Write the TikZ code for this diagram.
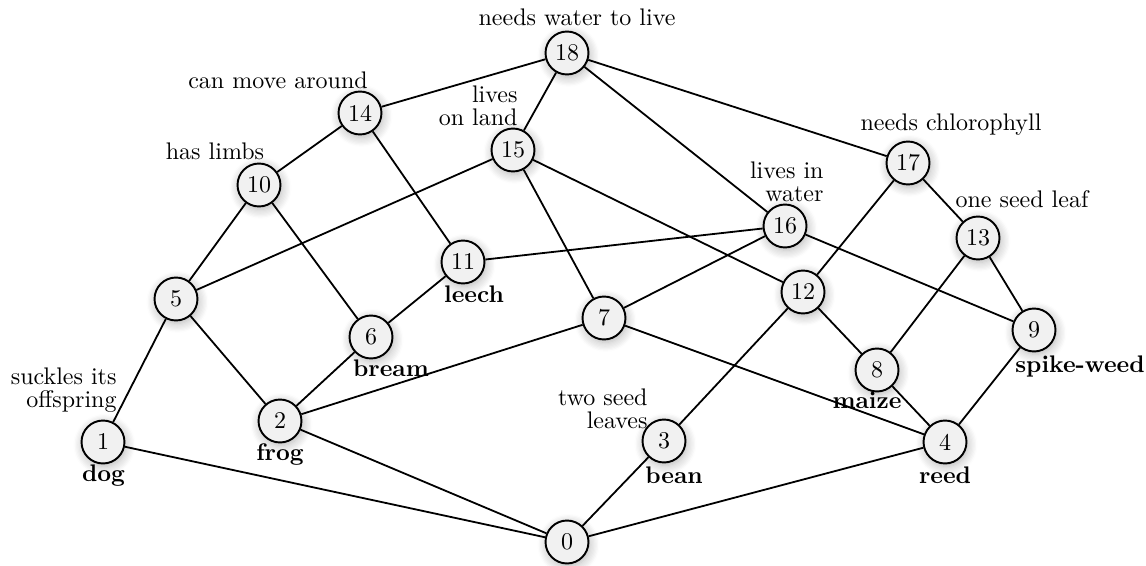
\documentclass[tikz,border=0pt]{standalone}
\usetikzlibrary{shadows.blur}
\begin{document}
\begin{tikzpicture}[x=0.41667pt,y=-0.41667pt,
  vert/.style={circle,draw,line width=0.8pt,fill=gray!11,minimum size=17.9pt,inner sep=0pt,
    blur shadow={shadow blur steps=8,shadow xshift=0.6pt,shadow yshift=-1.2pt,shadow blur radius=4pt,shadow opacity=30}},
  lbl/.style={inner sep=0pt,align=right,anchor=east,font=\fontsize{10}{9.5}\selectfont},
  clbl/.style={inner sep=0pt,align=center,font=\fontsize{10}{10.5}\selectfont},
  nm/.style={inner sep=0pt,font=\bfseries},
  edge/.style={line width=0.75pt}]
\useasboundingbox (0,0) rectangle (1146,565);
% vertices
\node[vert] (n18) at (567,53) {18};
\node[vert] (n14) at (360,113) {14};
\node[vert] (n15) at (513,150) {15};
\node[vert] (n10) at (259,185) {10};
\node[vert] (n17) at (908,163) {17};
\node[vert] (n16) at (785,226) {16};
\node[vert] (n13) at (978,238) {13};
\node[vert] (n11) at (463,262) {11};
\node[vert] (n5) at (176,299) {5};
\node[vert] (n12) at (803,292) {12};
\node[vert] (n7) at (604,318) {7};
\node[vert] (n6) at (371,337) {6};
\node[vert] (n9) at (1034,330) {9};
\node[vert] (n8) at (877,370) {8};
\node[vert] (n2) at (280,421) {2};
\node[vert] (n1) at (103,442) {1};
\node[vert] (n3) at (664,441) {3};
\node[vert] (n4) at (945,442) {4};
\node[vert] (n0) at (567,542) {0};
% edges
\foreach \a/\b in {18/14,18/15,18/16,18/17,14/10,14/11,15/5,15/7,15/12,10/5,10/6,
  17/12,17/13,16/11,16/7,16/9,13/8,13/9,11/6,5/1,5/2,12/3,12/8,7/2,7/4,6/2,9/4,8/4,
  1/0,2/0,3/0,4/0}
  \draw[edge] (n\a) -- (n\b);
% attribute labels
\node[clbl] (t18) at (577,17) {needs water to live};
\node[clbl] (t14) at (278,80) {can move around};
\node[lbl] (t15) at (518,106) {lives\\on land};
\node[clbl] (t10) at (215,151) {has limbs};
\node[clbl] (t17) at (951,125) {needs chlorophyll};
\node[lbl] (t16) at (824,182) {lives in\\water};
\node[clbl] (t13) at (1022,199) {one seed leaf};
\node[lbl] (t1) at (117,390) {suckles its\\offspring};
\node[lbl] (t3) at (648,409) {two seed\\leaves};
% object labels
\node[nm] (o1) at (103.5,476) {dog};
\node[nm] (o2) at (280,455) {frog};
\node[nm] (o6) at (391,368) {bream};
\node[nm] (o11) at (474,294) {leech};
\node[nm] (o3) at (674,475) {bean};
\node[nm] (o4) at (945,475) {reed};
\node[nm] (o8) at (867,400) {maize};
\node[nm] (o9) at (1080,366) {spike-weed};
\end{tikzpicture}
\end{document}
